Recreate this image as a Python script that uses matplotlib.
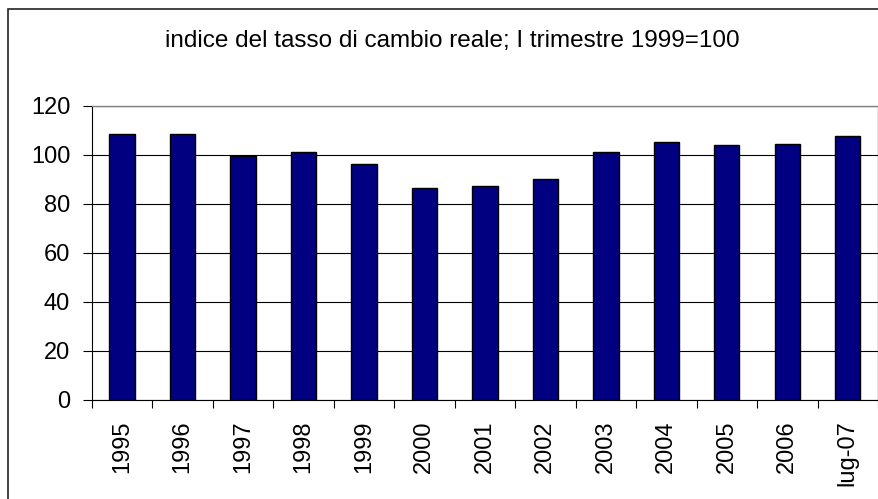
import matplotlib.pyplot as plt
from matplotlib.patches import Rectangle

# dati
labels = ["1995", "1996", "1997", "1998", "1999", "2000", "2001",
          "2002", "2003", "2004", "2005", "2006", "lug-07"]
values = [108.3, 108.3, 99.3, 101.1, 96.1, 86.4, 87.1,
          90.2, 101.1, 105.1, 103.8, 104.4, 107.6]
yticks = [0, 20, 40, 60, 80, 100, 120]

plt.rcParams['font.family'] = ['Liberation Sans', 'DejaVu Sans']

fig = plt.figure(figsize=(8.79, 4.99), dpi=100)
ax = fig.add_axes([91.7 / 879, 1 - 400 / 499, (878 - 91.7) / 879, (400 - 105.7) / 499])

# cornice esterna (tagliata a destra e in basso)
fig.patches.append(Rectangle((8 / 879, -0.1), 1.2, 1 - 9 / 499 + 0.1,
                             transform=fig.transFigure, fill=False,
                             edgecolor='#222222', linewidth=1.2))

x_pos = list(range(len(labels)))
ax.bar(x_pos, values, width=0.42, color='#000080', edgecolor='black', linewidth=1.0, zorder=3)

ax.set_xlim(-0.5, len(labels) - 0.5)
ax.set_ylim(0, 120)
ax.set_yticks(yticks)
ax.set_yticklabels([str(t) for t in yticks])
ax.set_axisbelow(True)
ax.yaxis.grid(True, color='black', linewidth=0.8)

ax.set_xticks(x_pos)
ax.set_xticklabels(labels, rotation=90, va='top', ha='center')
ax.set_xticks([i - 0.5 for i in range(len(labels) + 1)], minor=True)
ax.tick_params(axis='x', which='major', length=0, pad=14.5, labelsize=17)
ax.tick_params(axis='x', which='minor', length=5.5, width=0.8, direction='out')
ax.tick_params(axis='y', length=6.5, width=0.8, pad=9, labelsize=17)

for s in ['left', 'bottom']:
    ax.spines[s].set_color('black')
    ax.spines[s].set_linewidth(0.8)
for s in ['top', 'right']:
    ax.spines[s].set_color('#808080')
    ax.spines[s].set_linewidth(1.0)

fig.text(452 / 879, 1 - 41 / 499, "indice del tasso di cambio reale; I trimestre 1999=100",
         ha='center', va='center', fontsize=17.5)

fig.savefig('out.png', dpi=100)
